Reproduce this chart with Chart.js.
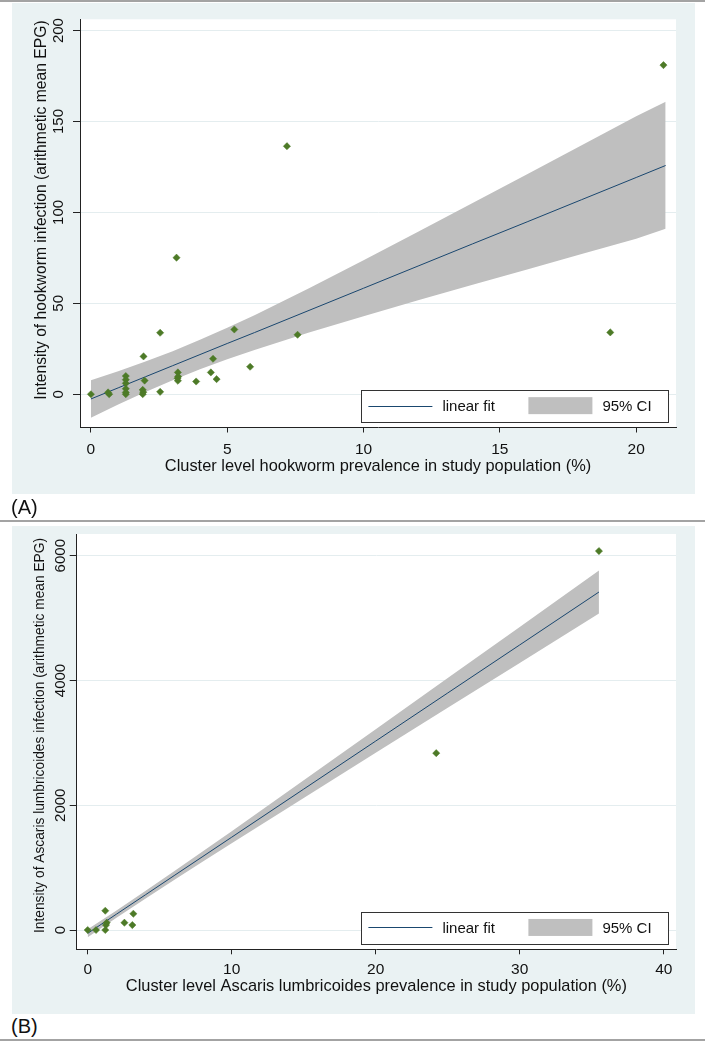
<!DOCTYPE html>
<html>
<head>
<meta charset="utf-8">
<script src="https://cdn.jsdelivr.net/npm/chart.js@4.4.0/dist/chart.umd.min.js"></script>
<style>
  html, body { margin: 0; padding: 0; background: #ffffff; }
  body { width: 705px; height: 1043px; position: relative; overflow: hidden; font-family: 'Liberation Sans', Arial, sans-serif; }
  .rule { position: absolute; left: 0; width: 705px; height: 2px; background: #a3a3a3; }
  .bg { position: absolute; left: 12px; width: 683px; background: #eaf2f3; }
  .cv { position: absolute; left: 0; }
  .lab { position: absolute; left: 11px; font-size: 20px; line-height: 24px; color: #111; }
</style>
</head>
<body>
<div class="rule" style="top:0px"></div>
<div class="bg" style="top:3px;height:491px"></div>
<div class="cv" style="top:0px;width:705px;height:500px"><canvas id="chartA"></canvas></div>
<div class="lab" style="top:495px">(A)</div>
<div class="rule" style="top:520px"></div>
<div class="bg" style="top:526px;height:488px"></div>
<div class="cv" style="top:526px;width:705px;height:488px"><canvas id="chartB"></canvas></div>
<div class="lab" style="top:1014px">(B)</div>
<div class="rule" style="top:1039px"></div>

<script>
// ---------- Panel A: hookworm ----------
const hwPrevalence = [0, 0.63, 0.67, 1.28, 1.28, 1.28, 1.28, 1.28, 1.28, 1.93, 1.97, 1.9, 1.92, 1.9, 2.54, 2.54, 3.14, 3.19, 3.2, 3.18, 3.19, 3.86, 4.4, 4.48, 4.61, 5.26, 5.84, 7.19, 7.58, 19.05, 21.0];
const hwIntensity  = [0, 1, 0, 10, 8, 6, 3, 1, 0, 20.8, 7.5, 2.4, 1.1, 0, 33.8, 1.3, 75.1, 12, 9.7, 8.8, 7.4, 7, 12, 19.5, 8.3, 35.6, 15.1, 136.4, 32.7, 34, 181];
const hwFitX  = [0, 1, 2, 3, 4, 5, 6, 8, 10, 12, 14, 16, 18, 20, 21.08];
const hwFit   = [-2.6, 3.5, 9.6, 15.7, 21.8, 27.9, 33.9, 46.1, 58.3, 70.5, 82.7, 94.8, 107.0, 119.2, 125.8];
const hwUpper = [7.7, 12.7, 18.0, 23.7, 29.9, 36.6, 43.5, 58.3, 73.7, 89.3, 105.2, 121.0, 136.9, 152.9, 160.8];
const hwLower = [-12.9, -5.7, 1.2, 7.7, 13.7, 19.2, 24.3, 33.9, 42.9, 51.7, 60.2, 68.6, 77.1, 85.5, 91.0];
const hwXTicks = [0, 5, 10, 15, 20];
const hwYTicks = [0, 50, 100, 150, 200];

// ---------- Panel B: Ascaris ----------
const alPrevalence = [0, 0.58, 1.22, 1.32, 1.27, 1.22, 2.55, 3.17, 3.1, 24.2, 35.5];
const alIntensity  = [0, 0, 309, 117, 80, 0, 117, 261, 80, 2835, 6075];
const alFitX  = [0, 2, 4, 6, 8, 10, 15, 20, 25, 30, 35.5];
const alFit   = [-53, 255, 563, 872, 1180, 1488, 2259, 3029, 3800, 4570, 5418];
const alUpper = [11, 314, 624, 941, 1262, 1585, 2400, 3219, 4039, 4859, 5763];
const alLower = [-117, 196, 502, 803, 1099, 1391, 2118, 2840, 3561, 4281, 5073];
const alXTicks = [0, 10, 20, 30, 40];
const alYTicks = [0, 2000, 4000, 6000];

const FONT = "'Liberation Sans', Arial, sans-serif";
const TXT = '#111111';
const GREEN = '#4d7a27';
const NAVY = '#1a476f';
const BAND = '#bfbfbf';
const GRID = '#e4edef';
const AXIS = '#222222';

Chart.defaults.font.family = FONT;
Chart.defaults.color = TXT;

const decor = {
  id: 'decor',
  beforeDraw(chart) {
    const {ctx, chartArea: a} = chart;
    ctx.save();
    ctx.fillStyle = '#ffffff';
    ctx.fillRect(a.left, a.top, a.right - a.left, a.bottom - a.top);
    ctx.restore();
  },
  afterDraw(chart, args, o) {
    const {ctx, chartArea: a} = chart;
    const ys = chart.scales.y;
    ctx.save();
    // y tick labels (rotated)
    ctx.fillStyle = TXT;
    ctx.font = o.tickSize + 'px ' + FONT;
    ctx.textAlign = 'center';
    ctx.textBaseline = 'middle';
    ys.ticks.forEach(t => {
      const py = ys.getPixelForValue(t.value);
      ctx.save();
      ctx.translate(o.tickX, py);
      ctx.rotate(-Math.PI / 2);
      ctx.fillText(String(t.value), 0, 0);
      ctx.restore();
    });
    // y axis title
    ctx.font = o.titleSize + 'px ' + FONT;
    ctx.save();
    ctx.translate(o.titleX, o.titleY);
    ctx.rotate(-Math.PI / 2);
    ctx.fillText(o.title, 0, 0);
    ctx.restore();
    // legend box
    const w = 306.6, h = 31.7;
    const bx = a.right - 8 - w, by = a.bottom - 6 - h;
    const cy = by + h / 2;
    ctx.fillStyle = '#ffffff';
    ctx.fillRect(bx, by, w, h);
    ctx.strokeStyle = '#333333';
    ctx.lineWidth = 1;
    ctx.strokeRect(Math.round(bx) + 0.5, Math.round(by) + 0.5, Math.round(w), Math.round(h));
    const fitDs = chart.data.datasets[1];
    const bandDs = chart.data.datasets[2];
    ctx.strokeStyle = fitDs.borderColor;
    ctx.lineWidth = 1;
    ctx.beginPath();
    ctx.moveTo(bx + 7, Math.round(cy) + 0.5);
    ctx.lineTo(bx + 71, Math.round(cy) + 0.5);
    ctx.stroke();
    ctx.fillStyle = bandDs.backgroundColor;
    ctx.fillRect(bx + 167, cy - 8.5, 64, 17);
    ctx.fillStyle = TXT;
    ctx.font = o.legendSize + 'px ' + FONT;
    ctx.textAlign = 'left';
    ctx.textBaseline = 'middle';
    ctx.fillText(fitDs.label, bx + 81, cy + 1);
    ctx.fillText(bandDs.label, bx + 241, cy + 1);
    ctx.restore();
  }
};

function pts(xs, ys) { return xs.map((x, i) => ({x: x, y: ys[i]})); }

function makeChart(id, p) {
  return new Chart(document.getElementById(id), {
    type: 'scatter',
    data: {
      datasets: [
        { label: 'data', data: pts(p.px, p.py), pointStyle: 'rectRot', pointRadius: 3.6,
          backgroundColor: GREEN, borderColor: GREEN, borderWidth: 0.5 },
        { label: 'linear fit', data: pts(p.fx, p.fit), showLine: true, borderColor: NAVY, borderWidth: 1,
          pointRadius: 0, tension: 0, fill: false },
        { label: '95% CI', data: pts(p.fx, p.up), showLine: true, borderWidth: 0, borderColor: 'rgba(0,0,0,0)',
          backgroundColor: BAND, pointRadius: 0, tension: 0, fill: '+1' },
        { label: 'ci lower', data: pts(p.fx, p.lo), showLine: true, borderWidth: 0, borderColor: 'rgba(0,0,0,0)',
          pointRadius: 0, tension: 0, fill: false }
      ]
    },
    options: {
      responsive: true,
      maintainAspectRatio: false,
      animation: false,
      events: [],
      layout: { padding: p.pad },
      plugins: {
        legend: { display: false },
        tooltip: { enabled: false },
        decor: p.decor
      },
      scales: {
        x: {
          type: 'linear', min: p.xmin, max: p.xmax,
          afterBuildTicks: s => { s.ticks = p.xt.map(v => ({value: v})); },
          afterFit: s => { s.height = p.xh; },
          grid: { drawOnChartArea: false, drawTicks: true, tickLength: 5, tickColor: AXIS, tickWidth: 1 },
          border: { display: true, color: AXIS, width: 1 },
          ticks: { padding: p.xtPad, color: TXT, font: { size: 15.5 }, maxRotation: 0, minRotation: 0,
                   autoSkip: false, callback: v => String(v) },
          title: { display: true, text: p.xTitle, color: TXT, font: { size: 16.4 },
                   padding: { top: 0, bottom: p.xTitlePad } }
        },
        y: {
          type: 'linear', min: p.ymin, max: p.ymax,
          afterBuildTicks: s => { s.ticks = p.yt.map(v => ({value: v})); },
          afterFit: s => { s.width = p.yw; },
          grid: { color: GRID, drawTicks: true, tickLength: 7, tickColor: AXIS, tickWidth: 1, lineWidth: 1 },
          border: { display: true, color: AXIS, width: 1 },
          ticks: { display: false }
        }
      }
    },
    plugins: [decor]
  });
}

makeChart('chartA', {
  px: hwPrevalence, py: hwIntensity, fx: hwFitX, fit: hwFit, up: hwUpper, lo: hwLower,
  xt: hwXTicks, yt: hwYTicks,
  xmin: -0.40, xmax: 21.46, ymin: -18.3, ymax: 206.2,
  pad: { left: 0, right: 29, top: 19.3, bottom: 0 },
  yw: 80, xh: 72.5, xtPad: 8, xTitlePad: 23.5,
  xTitle: 'Cluster level hookworm prevalence in study population (%)',
  decor: { tickX: 58.5, tickSize: 15, titleX: 42, titleY: 210, titleSize: 15.7, legendSize: 15,
           title: 'Intensity of hookworm infection (arithmetic mean EPG)' }
});

makeChart('chartB', {
  px: alPrevalence, py: alIntensity, fx: alFitX, fit: alFit, up: alUpper, lo: alLower,
  xt: alXTicks, yt: alYTicks,
  xmin: -0.764, xmax: 40.85, ymin: -309, ymax: 6348,
  pad: { left: 0, right: 29, top: 8, bottom: 0 },
  yw: 76.7, xh: 64.7, xtPad: 6.5, xTitlePad: 17.5,
  xTitle: 'Cluster level Ascaris lumbricoides prevalence in study population (%)',
  decor: { tickX: 61, tickSize: 15, titleX: 40, titleY: 209.5, titleSize: 13.75, legendSize: 15,
           title: 'Intensity of Ascaris lumbricoides infection (arithmetic mean EPG)' }
});
</script>
</body>
</html>
